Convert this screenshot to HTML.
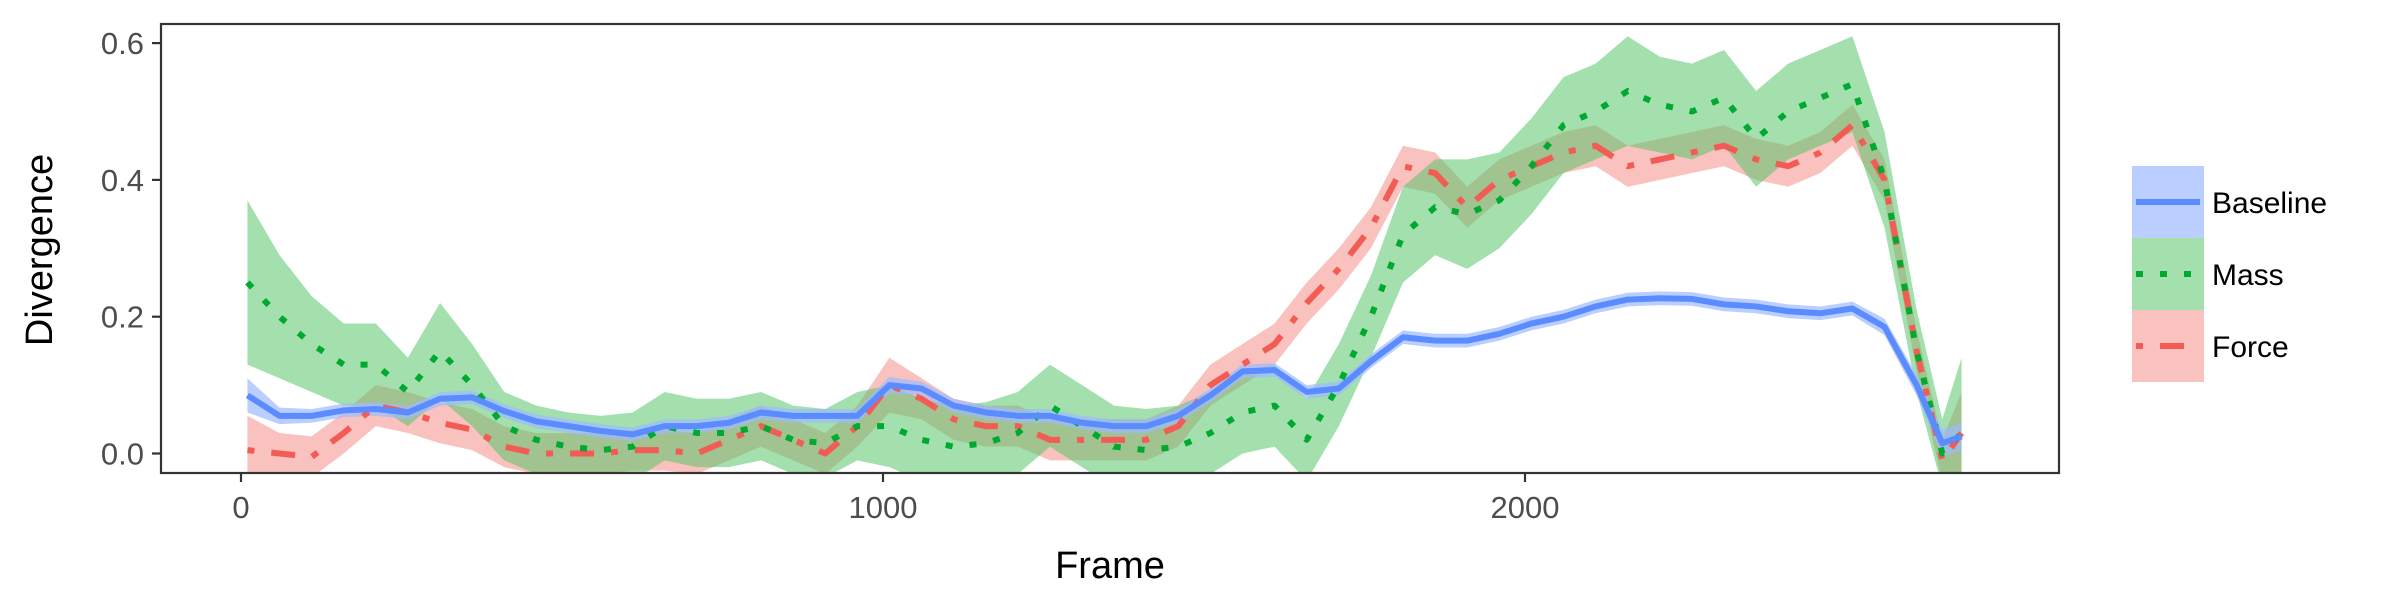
<!DOCTYPE html>
<html><head><meta charset="utf-8"><style>
body{margin:0;background:#fff;}
svg{display:block;font-family:"Liberation Sans",sans-serif;}
</style></head><body>
<svg id="chart" width="2400" height="600" viewBox="0 0 2400 600" xmlns="http://www.w3.org/2000/svg">
<defs><clipPath id="clip"><rect x="161" y="24" width="1898" height="449"/></clipPath></defs>
<rect x="0" y="0" width="2400" height="600" fill="#fff"/>
<g id="bands" clip-path="url(#clip)"></g>
<g id="lines" clip-path="url(#clip)"></g>
<rect x="161" y="24" width="1898" height="449" fill="none" stroke="#333" stroke-width="2.2"/>
<g id="axes"></g>
<text x="1110" y="578" font-size="38" text-anchor="middle" fill="#000">Frame</text>
<text transform="translate(52,250) rotate(-90)" font-size="38" text-anchor="middle" fill="#000">Divergence</text>
<g id="legend"></g>
</svg>
<script>
const frames=[10,60,110,160,210,260,310,360,410,460,510,560,610,660,710,760,810,860,910,960,1010,1060,1110,1160,1210,1260,1310,1360,1410,1460,1510,1560,1610,1660,1710,1760,1810,1860,1910,1960,2010,2060,2110,2160,2210,2260,2310,2360,2410,2460,2510,2560,2610,2650,2680];
const baseline=[0.085,0.055,0.055,0.063,0.065,0.06,0.08,0.082,0.062,0.047,0.04,0.033,0.028,0.04,0.04,0.045,0.06,0.055,0.055,0.055,0.1,0.095,0.07,0.06,0.055,0.055,0.045,0.04,0.04,0.055,0.085,0.12,0.122,0.09,0.095,0.135,0.17,0.165,0.165,0.175,0.19,0.2,0.215,0.225,0.227,0.226,0.218,0.215,0.208,0.205,0.212,0.185,0.1,0.015,0.025];
const baselineSpread=[0.025,0.012,0.01,0.01,0.01,0.01,0.01,0.01,0.01,0.01,0.01,0.01,0.01,0.01,0.01,0.01,0.01,0.01,0.01,0.01,0.012,0.01,0.01,0.01,0.01,0.01,0.01,0.01,0.01,0.01,0.01,0.01,0.01,0.01,0.01,0.01,0.01,0.01,0.01,0.01,0.01,0.01,0.01,0.01,0.01,0.01,0.01,0.01,0.01,0.01,0.01,0.012,0.015,0.02,0.02];
const mass=[0.25,0.2,0.16,0.13,0.13,0.09,0.15,0.1,0.04,0.02,0.01,0.005,0.01,0.04,0.03,0.03,0.04,0.02,0.015,0.04,0.04,0.02,0.01,0.015,0.03,0.07,0.04,0.01,0.005,0.01,0.03,0.06,0.07,0.02,0.1,0.2,0.32,0.36,0.35,0.37,0.42,0.48,0.5,0.53,0.51,0.5,0.52,0.46,0.5,0.52,0.54,0.4,0.15,0.0,0.03];
const massSpread=[0.12,0.09,0.07,0.06,0.06,0.05,0.07,0.06,0.05,0.05,0.05,0.05,0.05,0.05,0.05,0.05,0.05,0.05,0.05,0.05,0.06,0.06,0.06,0.06,0.06,0.06,0.06,0.06,0.06,0.06,0.06,0.06,0.06,0.06,0.06,0.06,0.07,0.07,0.08,0.07,0.07,0.07,0.07,0.08,0.07,0.07,0.07,0.07,0.07,0.07,0.07,0.07,0.06,0.05,0.11];
const force=[0.005,0.0,-0.005,0.03,0.07,0.06,0.045,0.035,0.01,0.0,0.0,0.0,0.005,0.005,0.0,0.02,0.04,0.02,0.0,0.04,0.1,0.08,0.05,0.04,0.04,0.02,0.02,0.02,0.02,0.04,0.1,0.13,0.16,0.22,0.27,0.33,0.42,0.41,0.36,0.4,0.42,0.44,0.45,0.42,0.43,0.44,0.45,0.43,0.42,0.44,0.48,0.4,0.15,-0.01,0.03];
const forceSpread=[0.05,0.03,0.03,0.03,0.03,0.03,0.03,0.03,0.03,0.03,0.03,0.03,0.03,0.03,0.03,0.03,0.03,0.03,0.03,0.03,0.04,0.03,0.03,0.03,0.03,0.03,0.03,0.03,0.03,0.03,0.03,0.03,0.03,0.03,0.03,0.03,0.03,0.03,0.03,0.03,0.03,0.03,0.03,0.03,0.03,0.03,0.03,0.03,0.03,0.03,0.03,0.03,0.03,0.03,0.06];
const xTicks=[0,1000,2000];
const yTicks=[0.0,0.2,0.4,0.6];
const yTickLabels=["0.0","0.2","0.4","0.6"];
const seriesNames=["Baseline","Mass","Force"];

const NS="http://www.w3.org/2000/svg";
function xs(f){return 241+f*0.642;}
function ys(v){return 453.5-v*684;}
function mk(tag,attrs,parent){const e=document.createElementNS(NS,tag);for(const k in attrs)e.setAttribute(k,attrs[k]);parent.appendChild(e);return e;}

const styles=[
 {fill:"#9dbbff",fillOp:0.7,stroke:"#5a8cff",dash:""},
 {fill:"#4fc463",fillOp:0.52,stroke:"#00a92f",dash:"7 17"},
 {fill:"#f4857e",fillOp:0.5,stroke:"#f25c55",dash:"7 17 24 17"}
];
const data=[[baseline,baselineSpread],[mass,massSpread],[force,forceSpread]];
const bands=document.getElementById('bands'),lines=document.getElementById('lines');
[2,1,0].forEach(i=>{
 const [m,s]=data[i];
 let up=frames.map((f,j)=>xs(f)+","+ys(m[j]+s[j]));
 let lo=frames.map((f,j)=>xs(f)+","+ys(m[j]-s[j])).reverse();
 const p=mk('polygon',{points:up.concat(lo).join(' '),fill:styles[i].fill,'fill-opacity':styles[i].fillOp},bands);
 
 
});
[2,1,0].forEach(i=>{
 const m=data[i][0];
 const l=mk('polyline',{points:frames.map((f,j)=>xs(f)+","+ys(m[j])).join(' '),fill:'none',stroke:styles[i].stroke,'stroke-width':6,'stroke-dasharray':styles[i].dash,'stroke-linejoin':'round'},lines);
 
 
});
const axes=document.getElementById('axes');
xTicks.forEach(t=>{
 const tk=mk('line',{x1:xs(t),x2:xs(t),y1:473,y2:482,stroke:'#333','stroke-width':2.2},axes);
 
 
 const tx=mk('text',{x:xs(t),y:518,'font-size':31,'text-anchor':'middle',fill:'#4d4d4d'},axes);
 tx.textContent=t;
 
 
});
yTicks.forEach((t,i)=>{
 const tk=mk('line',{x1:152,x2:161,y1:ys(t),y2:ys(t),stroke:'#333','stroke-width':2.2},axes);
 
 
 const tx=mk('text',{x:144,y:ys(t)+11,'font-size':31,'text-anchor':'end',fill:'#4d4d4d'},axes);
 tx.textContent=yTickLabels[i];
 
 
});
const leg=document.getElementById('legend');
seriesNames.forEach((n,i)=>{
 const y0=166+i*72;
 const r=mk('rect',{x:2132,y:y0,width:72,height:72,fill:styles[i].fill,'fill-opacity':styles[i].fillOp},leg);
 
 
 const l=mk('line',{x1:2136,x2:2200,y1:y0+36,y2:y0+36,stroke:styles[i].stroke,'stroke-width':6,'stroke-dasharray':styles[i].dash},leg);
 
 
 const t=mk('text',{x:2212,y:y0+47,'font-size':30,fill:'#000'},leg);
 t.textContent=n;
 
 
});
</script>
</body></html>
